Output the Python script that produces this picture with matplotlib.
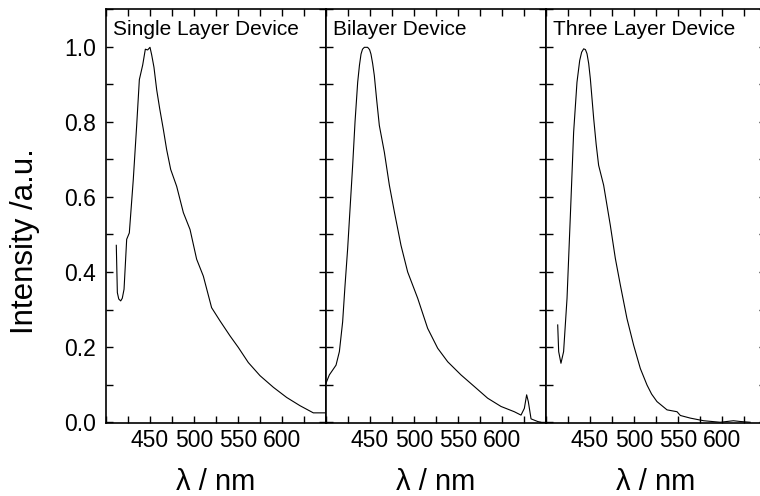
"""
Electroluminescence spectra of the three devices, side by side.
"""
import numpy as np
import matplotlib
matplotlib.use("Agg")
import matplotlib.pyplot as plt
from matplotlib.ticker import MultipleLocator

plt.rcParams["font.family"] = ["Liberation Sans", "DejaVu Sans"]

# --- data (wavelength nm, normalised intensity) ---
single_nm = [411.7, 412.9, 414.5, 416.7, 418.5, 420.5, 423.5, 426.5, 431.0, 434.8,
             437.9, 441.7, 444.7, 447.3, 450.0, 451.9, 454.5, 457.6, 461.0, 465.2,
             468.9, 473.5, 480.3, 487.9, 495.5, 503.0, 510.6, 520.0, 529.5, 540.9,
             550.4, 561.7, 575.0, 590.2, 605.3, 620.5, 635.6, 648.9]
single_int = [0.471, 0.345, 0.328, 0.323, 0.330, 0.354, 0.487, 0.504, 0.646, 0.788,
              0.912, 0.951, 0.993, 0.991, 0.998, 0.978, 0.945, 0.885, 0.835, 0.779,
              0.726, 0.673, 0.628, 0.558, 0.513, 0.434, 0.389, 0.305, 0.270, 0.230,
              0.199, 0.159, 0.124, 0.093, 0.066, 0.044, 0.025, 0.025]

bilayer_nm = [400.0, 403.8, 407.6, 411.4, 415.2, 418.9, 421.5, 424.6, 427.5, 430.3,
              433.0, 436.0, 438.0, 439.8, 441.5, 443.6, 447.3, 449.5, 451.1, 453.0,
              454.9, 457.5, 460.6, 466.3, 472.0, 477.7, 485.2, 492.8, 504.2, 515.5,
              526.9, 538.3, 553.4, 568.6, 583.7, 598.9, 614.0, 621.6, 625.4, 628.0,
              629.9, 633.0, 640.5, 644.0]
bilayer_int = [0.104, 0.126, 0.139, 0.152, 0.188, 0.267, 0.360, 0.462, 0.575, 0.684,
               0.800, 0.905, 0.950, 0.980, 0.993, 0.998, 0.998, 0.992, 0.980, 0.955,
               0.923, 0.860, 0.790, 0.719, 0.631, 0.560, 0.471, 0.400, 0.330, 0.250,
               0.197, 0.161, 0.126, 0.095, 0.064, 0.042, 0.028, 0.019, 0.037, 0.073,
               0.055, 0.009, 0.002, 0.000]

three_nm = [413.3, 414.4, 417.0, 420.0, 423.9, 427.7, 431.4, 435.2, 438.3, 440.5,
            442.8, 444.8, 446.6, 448.5, 450.4, 454.2, 457.0, 459.8, 465.5, 473.1,
            478.8, 484.5, 492.0, 499.6, 507.2, 514.8, 520.0, 526.1, 537.5, 548.9,
            552.7, 564.0, 579.2, 598.0, 613.0, 620.8, 632.0]
three_int = [0.259, 0.188, 0.157, 0.188, 0.330, 0.551, 0.772, 0.905, 0.963, 0.985,
             0.994, 0.992, 0.981, 0.955, 0.914, 0.808, 0.740, 0.684, 0.631, 0.524,
             0.436, 0.365, 0.276, 0.205, 0.143, 0.099, 0.075, 0.055, 0.033, 0.028,
             0.018, 0.011, 0.004, 0.000, 0.004, 0.002, 0.000]

titles = ["Single Layer Device", "Bilayer Device", "Three Layer Device"]
series = [(single_nm, single_int), (bilayer_nm, bilayer_int), (three_nm, three_int)]

x_ticks = list(range(400, 651, 25))
x_labels = [str(t) if t in (450, 500, 550, 600) else "" for t in x_ticks]

fig = plt.figure(figsize=(7.6, 4.96), dpi=100)
fig.patch.set_facecolor("white")

W, H = 760, 496
left0, panel_w = 106, 220
top_px, bot_px = 9, 423

for i, ((xs, ys), title) in enumerate(zip(series, titles)):
    l = left0 + i * panel_w
    ax = fig.add_axes([l / W, 1 - bot_px / H, panel_w / W, (bot_px - top_px) / H])
    ax.plot(xs, ys, color="black", lw=0.8)
    ax.set_xlim(400, 650)
    ax.set_ylim(-0.002, 1.10)
    ax.set_xticks(x_ticks)
    ax.set_xticklabels(x_labels)
    ax.yaxis.set_major_locator(MultipleLocator(0.2))
    ax.yaxis.set_minor_locator(MultipleLocator(0.1))
    ax.tick_params(which="both", direction="in", top=True, right=True,
                   labelsize=16.5, width=1.0, length=5)
    ax.tick_params(axis="x", pad=4)
    ax.tick_params(axis="y", pad=7)
    if i == 0:
        ax.set_yticklabels([f"{v:.1f}" for v in ax.get_yticks()])
        ax.set_ylabel("Intensity /a.u.", fontsize=22.5)
        # label sits a little below the axes centre in the original
        ax.yaxis.set_label_coords(-0.30, 0.44)
    else:
        ax.tick_params(axis="y", labelleft=False)
    for sp in ax.spines.values():
        sp.set_linewidth(1.2)
    ax.text(0.03, 0.973, title, transform=ax.transAxes, fontsize=15,
            ha="left", va="top")
    ax.set_xlabel("λ / nm", fontsize=21, labelpad=12)

plt.savefig("out.png", dpi=100, facecolor=fig.get_facecolor())
